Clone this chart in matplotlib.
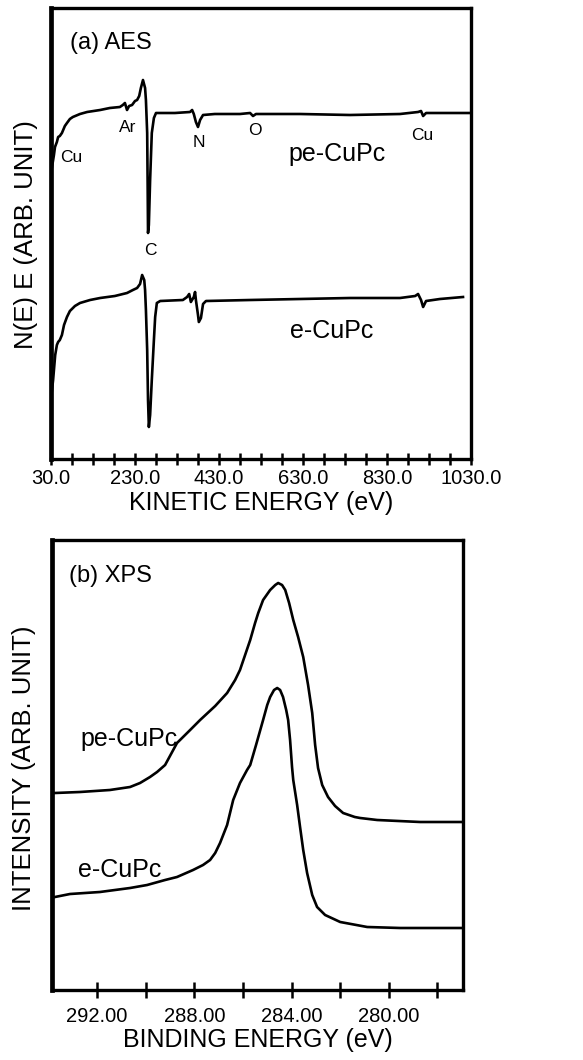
import matplotlib
matplotlib.use("Agg")
import matplotlib.pyplot as plt
from matplotlib.ticker import FixedLocator, FormatStrFormatter

plt.rcParams['font.family'] = ['Liberation Sans', 'DejaVu Sans']

W, H = 583, 1060

# (a) AES, kinetic energy (eV) vs N(E)E (arb. unit)
aes_pe_ev = [32, 37, 39.5, 44, 47, 51, 56, 63, 68, 75, 82, 99, 116, 147, 170, 194, 201, 206, 211,
             216, 223, 230, 235, 240, 244, 249, 254, 256, 259, 260, 261, 263, 266, 270, 275, 280,
             290, 325, 361, 366, 370, 375, 380, 385, 392, 420, 480, 504, 511, 518, 623, 742, 861,
             904, 911, 916, 923, 968, 1028]
aes_pe_int = [291, 304, 312, 317, 322, 323, 326, 333, 336, 340, 342, 345, 347, 349, 351, 352, 354,
              356, 349, 353, 354, 358, 359, 363, 371, 379, 371, 359, 326, 279, 226, 234, 279, 326,
              341, 346, 346, 346, 347, 349, 345, 337, 332, 339, 344, 345, 345, 346, 343, 345, 345,
              344, 345, 347, 348, 343, 346, 346, 346]

aes_e_ev = [31, 35, 40, 44, 47, 51, 56, 61, 68, 75, 87, 99, 123, 147, 182, 211, 225, 235, 242, 247,
            252, 254, 256, 259, 261, 263, 266, 270, 275, 278, 282, 290, 344, 354, 359, 363, 370,
            373, 375, 380, 382, 387, 392, 399, 504, 623, 742, 861, 897, 904, 911, 916, 923, 956,
            1011]
aes_e_int = [64, 79, 104, 114, 117, 119, 124, 134, 142, 148, 153, 156, 159, 161, 163, 166, 169, 171,
             175, 184, 179, 169, 149, 109, 59, 32, 44, 79, 119, 142, 156, 158, 159, 162, 165, 157,
             162, 167, 159, 144, 137, 141, 155, 158, 159, 160, 161, 161, 163, 165, 159, 152, 158,
             160, 162]

aes_ticks = [30, 230, 430, 630, 830, 1030]
aes_minor = [80, 130, 180, 280, 330, 380, 480, 530, 580, 680, 730, 780, 880, 930, 980]

# (b) XPS C 1s, binding energy (eV) vs intensity (arb. unit)
xps_pe_ev = [293.73, 292.70, 291.47, 290.64, 290.23, 289.82, 289.53, 289.20, 288.71, 288.17, 287.76,
             287.14, 286.65, 286.32, 286.12, 285.91, 285.70, 285.50, 285.37, 285.17, 284.88, 284.67,
             284.55, 284.39, 284.26, 284.10, 283.93, 283.73, 283.52, 283.32, 283.15, 283.03, 282.91,
             282.74, 282.50, 282.21, 281.88, 281.40, 281.18, 280.48, 278.71, 276.98]
xps_pe_int = [197, 198, 200, 203, 207, 213, 218, 225, 247, 260, 270, 284, 297, 310, 320, 335, 350,
              367, 377, 390, 400, 405, 407, 405, 400, 387, 370, 353, 333, 305, 277, 245, 222, 205,
              193, 184, 177, 173, 172, 170, 168, 168]

xps_e_ev = [293.73, 293.11, 291.88, 290.64, 289.94, 289.20, 288.71, 288.05, 287.64, 287.35, 287.14,
            286.94, 286.65, 286.40, 286.12, 285.83, 285.70, 285.46, 285.17, 285.00, 284.88, 284.72,
            284.59, 284.47, 284.35, 284.22, 284.14, 284.06, 283.98, 283.93, 283.77, 283.65, 283.52,
            283.36, 283.15, 282.95, 282.62, 282.00, 280.89, 279.53, 276.98]
xps_e_int = [93, 96, 98, 102, 105, 110, 113, 120, 125, 130, 137, 147, 165, 190, 207, 220, 225, 245,
             270, 285, 293, 300, 302, 300, 293, 280, 270, 250, 223, 210, 185, 163, 140, 117, 95, 83,
             75, 68, 63, 62, 62]

xps_ticks = [292, 288, 284, 280]
xps_minor = [290, 286, 282, 278]

# AES peak labels
aes_peaks = ['Cu', 'Ar', 'C', 'N', 'O', 'Cu']


def fpos(x, y):
    return x / W, 1 - y / H


fig = plt.figure(figsize=(W / 100, H / 100), dpi=100)

# ---- panel (a)
ax1 = fig.add_axes([51 / W, 1 - 459 / H, 420 / W, 451 / H])
ax1.plot(aes_pe_ev, aes_pe_int, color='black', lw=1.9)
ax1.plot(aes_e_ev, aes_e_int, color='black', lw=1.9)
ax1.set_xlim(30, 1030)
ax1.set_ylim(0, 451)
ax1.xaxis.set_major_locator(FixedLocator(aes_ticks))
ax1.xaxis.set_minor_locator(FixedLocator(aes_minor))
ax1.xaxis.set_major_formatter(FormatStrFormatter('%.1f'))
ax1.set_yticks([])
ax1.tick_params(axis='x', which='both', direction='inout', length=9, width=1.8, labelsize=14.5, pad=3)
ax1.set_xlabel('KINETIC ENERGY (eV)', fontsize=18, labelpad=2)

# ---- panel (b)
ax2 = fig.add_axes([52 / W, 1 - 990 / H, 411 / W, 450 / H])
ax2.plot(xps_pe_ev, xps_pe_int, color='black', lw=1.9)
ax2.plot(xps_e_ev, xps_e_int, color='black', lw=1.9)
ax2.set_xlim(293.85, 276.95)
ax2.set_ylim(0, 450)
ax2.xaxis.set_major_locator(FixedLocator(xps_ticks))
ax2.xaxis.set_minor_locator(FixedLocator(xps_minor))
ax2.xaxis.set_major_formatter(FormatStrFormatter('%.2f'))
ax2.set_yticks([])
ax2.tick_params(axis='x', which='both', direction='inout', length=12, width=1.8, labelsize=14.5, pad=6)
ax2.set_xlabel('BINDING ENERGY (eV)', fontsize=18, labelpad=2)

for ax in (ax1, ax2):
    for s in ax.spines.values():
        s.set_linewidth(2.4)
    ax.spines['left'].set_linewidth(3.4)

# y labels
fig.text(*fpos(26, 235), 'N(E) E (ARB. UNIT)', rotation=90, fontsize=18.5, ha='center', va='center')
fig.text(*fpos(24, 768), 'INTENSITY (ARB. UNIT)', rotation=90, fontsize=18.5, ha='center', va='center')

# panel titles and curve names
fig.text(*fpos(70, 49), '(a) AES', fontsize=17, va='baseline')
fig.text(*fpos(288, 161), 'pe-CuPc', fontsize=18, va='baseline')
fig.text(*fpos(290, 338), 'e-CuPc', fontsize=18, va='baseline')
fig.text(*fpos(69, 582), '(b) XPS', fontsize=17, va='baseline')
fig.text(*fpos(80, 746), 'pe-CuPc', fontsize=18, va='baseline')
fig.text(*fpos(78, 877), 'e-CuPc', fontsize=18, va='baseline')

# element labels on AES spectrum
peak_pos = [(71, 162), (128, 132), (150, 255), (199, 147), (255, 135), (422, 140)]
for name, (x, y) in zip(aes_peaks, peak_pos):
    fig.text(*fpos(x, y), name, fontsize=12.5, ha='center', va='baseline')

fig.savefig('out.png', dpi=100)
